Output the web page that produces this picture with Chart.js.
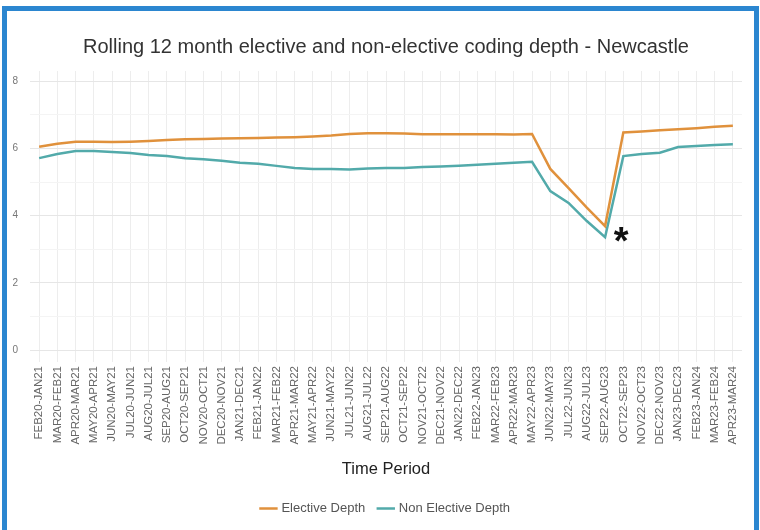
<!DOCTYPE html>
<html>
<head>
<meta charset="utf-8">
<script src="https://cdn.jsdelivr.net/npm/chart.js@4/dist/chart.umd.min.js"></script>
<style>
  html, body { margin: 0; padding: 0; background: #ffffff; }
  #wrap { position: relative; width: 760px; height: 530px; overflow: hidden; }
  #frame {
    position: absolute; left: 2px; top: 6px; width: 757px; height: 540px;
    box-sizing: border-box; border: 5px solid #2B86D0; border-bottom: none;
    pointer-events: none;
  }
  canvas { position: absolute; left: 0; top: 0; }
</style>
</head>
<body>
<div id="wrap">
  <canvas id="chart" width="760" height="530"></canvas>
  <div id="frame"></div>
</div>
<script>
// Rolling 12-month windows
const periods = [
  "FEB20-JAN21", "MAR20-FEB21", "APR20-MAR21", "MAY20-APR21", "JUN20-MAY21",
  "JUL20-JUN21", "AUG20-JUL21", "SEP20-AUG21", "OCT20-SEP21", "NOV20-OCT21",
  "DEC20-NOV21", "JAN21-DEC21", "FEB21-JAN22", "MAR21-FEB22", "APR21-MAR22",
  "MAY21-APR22", "JUN21-MAY22", "JUL21-JUN22", "AUG21-JUL22", "SEP21-AUG22",
  "OCT21-SEP22", "NOV21-OCT22", "DEC21-NOV22", "JAN22-DEC22", "FEB22-JAN23",
  "MAR22-FEB23", "APR22-MAR23", "MAY22-APR23", "JUN22-MAY23", "JUL22-JUN23",
  "AUG22-JUL23", "SEP22-AUG23", "OCT22-SEP23", "NOV22-OCT23", "DEC22-NOV23",
  "JAN23-DEC23", "FEB23-JAN24", "MAR23-FEB24", "APR23-MAR24"
];

const electiveDepth = [
  6.05, 6.14, 6.20, 6.20, 6.19, 6.20, 6.22, 6.25, 6.27, 6.28,
  6.29, 6.30, 6.31, 6.32, 6.33, 6.35, 6.38, 6.43, 6.45, 6.45,
  6.44, 6.42, 6.42, 6.42, 6.42, 6.42, 6.41, 6.43, 5.39, 4.82,
  4.24, 3.69, 6.47, 6.50, 6.54, 6.57, 6.60, 6.64, 6.67
];

const nonElectiveDepth = [
  5.71, 5.83, 5.92, 5.92, 5.89, 5.86, 5.80, 5.77, 5.71, 5.68,
  5.63, 5.57, 5.54, 5.48, 5.42, 5.39, 5.39, 5.37, 5.40, 5.42,
  5.42, 5.45, 5.46, 5.48, 5.51, 5.54, 5.57, 5.60, 4.73, 4.38,
  3.84, 3.36, 5.77, 5.83, 5.87, 6.04, 6.07, 6.10, 6.12
];

const yTicks = [0, 1, 2, 3, 4, 5, 6, 7, 8];
const seriesNames = ["Elective Depth", "Non Elective Depth"];

// Index of the window flagged with an asterisk
const flaggedIndex = 31;

const FONT = "'Liberation Sans', Arial, sans-serif";

const asteriskPlugin = {
  id: 'asterisk',
  afterDatasetsDraw(chart) {
    const { ctx, scales } = chart;
    const x = scales.x.getPixelForValue(flaggedIndex) + 16;
    const y = scales.y.getPixelForValue(nonElectiveDepth[flaggedIndex]) + 6;
    ctx.save();
    ctx.fillStyle = '#111111';
    ctx.font = 'bold 38px ' + FONT;
    ctx.textAlign = 'center';
    ctx.textBaseline = 'middle';
    ctx.fillText('*', x, y);
    ctx.restore();
  }
};

new Chart(document.getElementById('chart'), {
  type: 'line',
  data: {
    labels: periods,
    datasets: [
      {
        label: seriesNames[0],
        data: electiveDepth,
        borderColor: '#E0913C',
        backgroundColor: '#E0913C',
        borderWidth: 2.5,
        pointRadius: 0,
        tension: 0
      },
      {
        label: seriesNames[1],
        data: nonElectiveDepth,
        borderColor: '#52AAAA',
        backgroundColor: '#52AAAA',
        borderWidth: 2.5,
        pointRadius: 0,
        tension: 0
      }
    ]
  },
  options: {
    responsive: false,
    animation: false,
    layout: { padding: { left: 10, right: 18, top: 9, bottom: 5 } },
    plugins: {
      title: {
        display: true,
        fullSize: false,
        text: 'Rolling 12 month elective and non-elective coding depth - Newcastle',
        color: '#333333',
        font: { family: FONT, size: 20, weight: 'normal' },
        padding: { top: 26, bottom: 12 }
      },
      legend: {
        position: 'bottom',
        fullSize: false,
        labels: {
          usePointStyle: true,
          pointStyle: 'line',
          boxWidth: 15,
          color: '#555555',
          padding: 14,
          font: { family: FONT, size: 13 }
        }
      },
      tooltip: { enabled: false }
    },
    scales: {
      x: {
        offset: true,
        border: { display: false },
        grid: { color: '#EDEDED', drawTicks: false, offset: false },
        ticks: {
          autoSkip: false,
          minRotation: 90,
          maxRotation: 90,
          padding: 4,
          color: '#666666',
          font: { family: FONT, size: 11.5 }
        },
        title: {
          display: true,
          text: 'Time Period',
          color: '#222222',
          font: { family: FONT, size: 16.5 },
          padding: { top: 4, bottom: 9 }
        },
        afterFit(scale) { scale.height = 126; }
      },
      y: {
        min: -0.35,
        max: 8.3,
        border: { display: false },
        afterBuildTicks(scale) {
          scale.ticks = yTicks.map(v => ({ value: v }));
        },
        grid: {
          drawTicks: false,
          color: ctx => (ctx.tick && ctx.tick.value % 2 === 0) ? '#E6E6E6' : '#F4F4F4'
        },
        ticks: {
          padding: 12,
          color: '#777777',
          font: { family: FONT, size: 10 },
          callback: v => (v % 2 === 0 ? String(v) : '')
        },
        afterFit(scale) { scale.width = 20; }
      }
    }
  },
  plugins: [asteriskPlugin]
});
</script>
</body>
</html>
